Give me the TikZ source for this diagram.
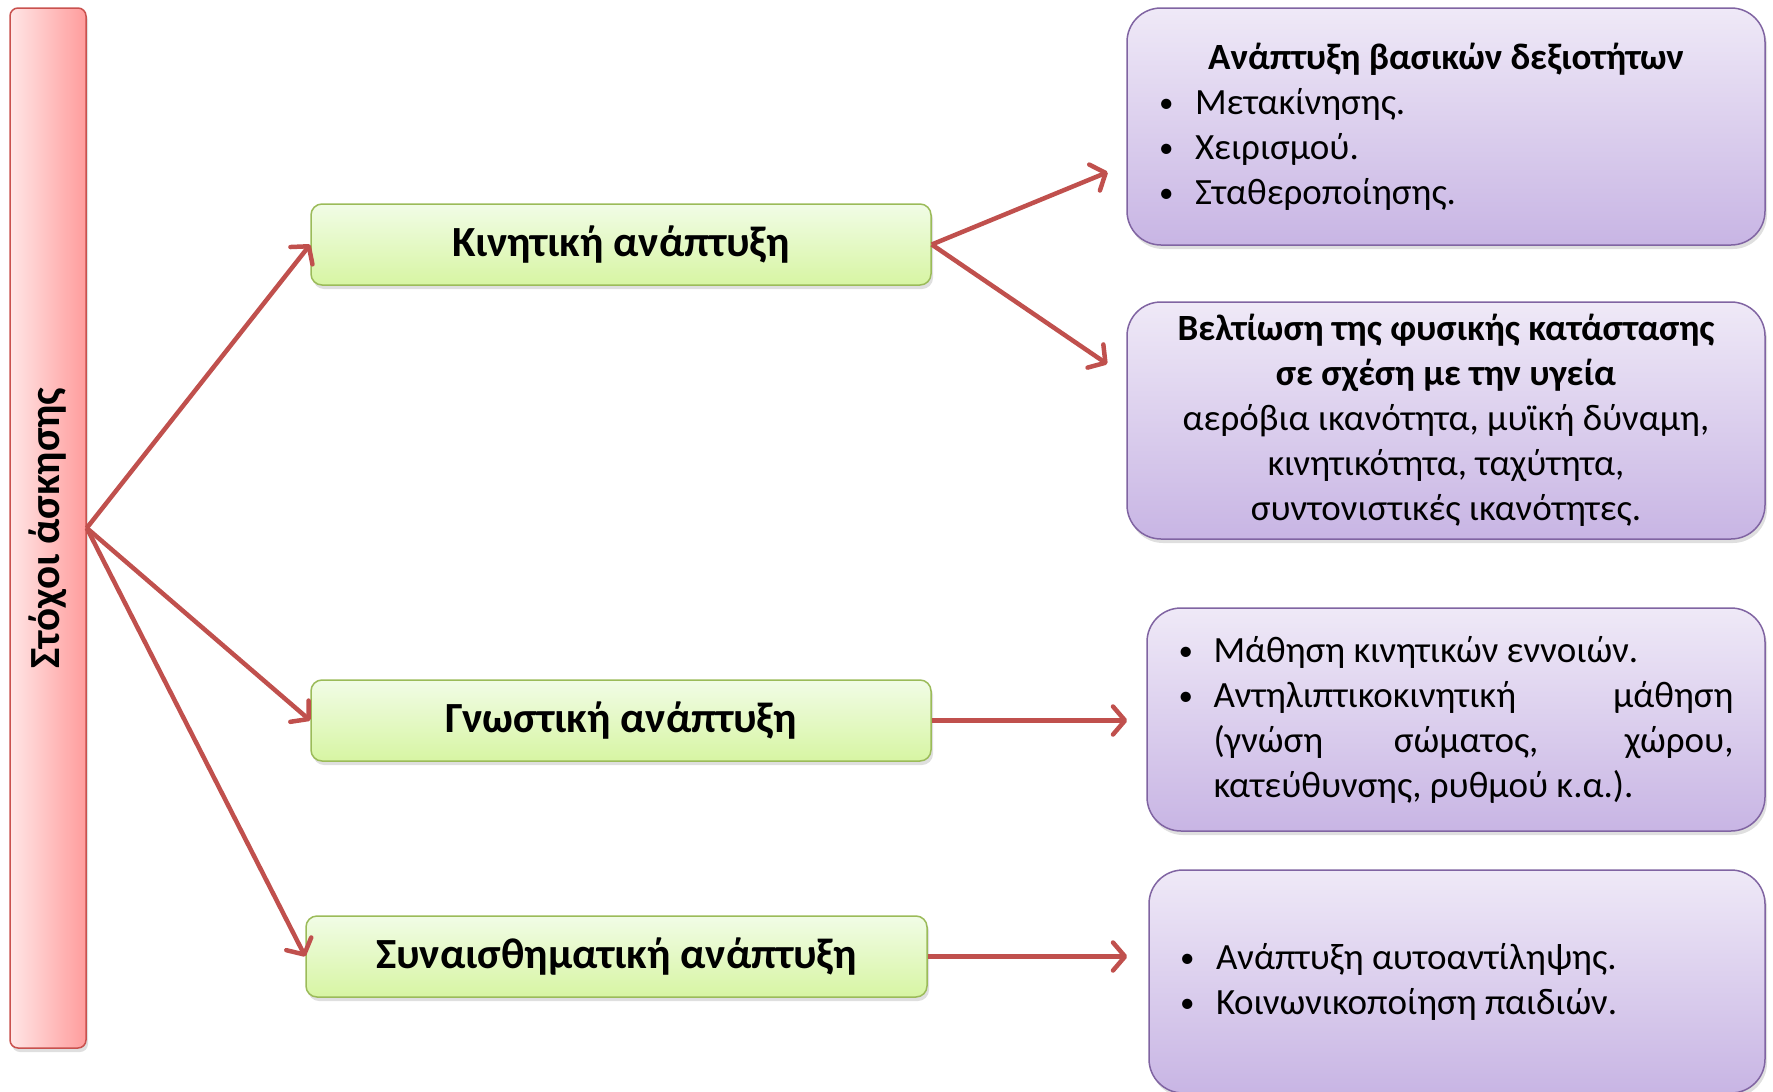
\documentclass[tikz,border=0pt]{standalone}
\usepackage{fontspec}
\setmainfont{Carlito}
\usepackage{graphicx}
\usetikzlibrary{arrows.meta,shadows}

\definecolor{arrred}{HTML}{C0504D}
\definecolor{barline}{HTML}{C9514E}
\definecolor{bartop}{HTML}{FFE6E6}
\definecolor{barbot}{HTML}{FF9C9C}
\definecolor{greenline}{HTML}{9BBB59}
\definecolor{greentop}{HTML}{F1FCE6}
\definecolor{greenbot}{HTML}{D7F5A3}
\definecolor{purpleline}{HTML}{8064A2}
\definecolor{purpletop}{HTML}{EFE9F7}
\definecolor{purplebot}{HTML}{C8B5E4}

\newcommand\bul[2][36pt]{\par\noindent\hangindent=#1\hangafter=1\makebox[#1][l]{\raisebox{2pt}{\fontsize{29}{29}\selectfont\textbullet}}#2}

\begin{document}
\begin{tikzpicture}[x=1pt, y=-1pt,
    every node/.style={font=\fontsize{37}{45}\selectfont, inner sep=0pt},
    goalbar/.style={draw=barline, line width=1.5pt, rounded corners=8pt,
        left color=bartop, right color=barbot,
        drop shadow={shadow xshift=2pt, shadow yshift=-4pt, opacity=0.25}},
    areabox/.style={draw=greenline, line width=1.5pt, rounded corners=11pt,
        top color=greentop, bottom color=greenbot,
        minimum height=81pt, font=\fontsize{43}{50}\selectfont\bfseries,
        drop shadow={shadow xshift=2pt, shadow yshift=-4pt, opacity=0.25}},
    aimbox/.style={draw=purpleline, line width=1.5pt, rounded corners=34pt,
        top color=purpletop, bottom color=purplebot,
        drop shadow={shadow xshift=2pt, shadow yshift=-4pt, opacity=0.25}},
    arr/.style={draw=arrred, line width=4.5pt,
        -{Straight Barb[length=12pt,width=28pt,round]}}]

    \useasboundingbox (0,0) rectangle (1773,1092);

    % left bar
    \node[goalbar, minimum width=76pt, minimum height=1040pt] (goals) at (48,528)
        {\rotatebox{90}{\fontsize{43}{50}\selectfont\bfseries Στόχοι άσκησης}};

    % areas
    \node[areabox, minimum width=620pt] (kin) at (621,244.5) {Κινητική ανάπτυξη};
    \node[areabox, minimum width=620pt] (gno) at (621,720.5) {Γνωστική ανάπτυξη};
    \node[areabox, minimum width=621pt] (sei) at (616.5,956.5) {Συναισθηματική ανάπτυξη};

    % aims
    \node[aimbox, minimum width=638pt, minimum height=237pt] (skills) at (1446,126.5)
        {\parbox{574pt}{{\centering\bfseries Ανάπτυξη βασικών δεξιοτήτων\par}\raggedright
        \bul{Μετακίνησης.}\bul{Χειρισμού.}\bul{Σταθεροποίησης.}}};
    \node[aimbox, minimum width=638pt, minimum height=237pt, align=center] (fit) at (1446,420.5)
        {{\bfseries Βελτίωση της φυσικής κατάστασης}\\
         {\bfseries σε σχέση με την υγεία}\\
         αερόβια ικανότητα, μυϊκή δύναμη,\\
         κινητικότητα, ταχύτητα,\\
         συντονιστικές ικανότητες.};
    \node[aimbox, minimum width=618pt, minimum height=223pt] (cog) at (1456,719.5)
        {\parbox{555pt}{\bul[35pt]{Μάθηση κινητικών εννοιών.}
        \bul[35pt]{Αντηλιπτικοκινητική μάθηση\linebreak (γνώση σώματος, χώρου,\linebreak κατεύθυνσης, ρυθμού κ.α.).}}};
    \node[aimbox, minimum width=616pt, minimum height=223pt] (soc) at (1457,981.5)
        {\parbox{554pt}{\raggedright\bul{Ανάπτυξη αυτοαντίληψης.}\bul{Κοινωνικοποίηση παιδιών.}}};

    % arrows
    \draw[arr] (goals.east) -- (kin.west);
    \draw[arr] (goals.east) -- (gno.west);
    \draw[arr] (goals.east) -- (sei.west);
    \draw[arr, shorten >=20pt] (kin.east) -- ([yshift=-38pt]skills.west);
    \draw[arr, shorten >=23pt] (kin.east) -- ([yshift=43.5pt]fit.west);
    \draw[arr, shorten >=19pt] (gno.east) -- (gno.east -| cog.west);
    \draw[arr, shorten >=21pt] (sei.east) -- (sei.east -| soc.west);

\end{tikzpicture}
\end{document}
